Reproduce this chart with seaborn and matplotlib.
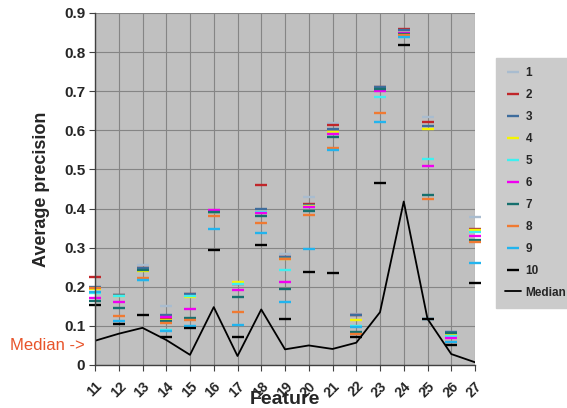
import matplotlib
matplotlib.use("Agg")
import matplotlib.pyplot as plt
import seaborn as sns
import pandas as pd

features = list(range(11, 28))
s1 = [0.197, 0.178, 0.255, 0.151, 0.180, 0.390, 0.210, 0.397, 0.283, 0.429, 0.620, 0.130, 0.710, 0.855, 0.634, 0.085, 0.378]
s2 = [0.226, 0.180, 0.247, 0.120, 0.181, 0.392, 0.208, 0.461, 0.277, 0.412, 0.613, 0.128, 0.711, 0.858, 0.622, 0.083, 0.349]
s3 = [0.200, 0.179, 0.248, 0.128, 0.182, 0.392, 0.209, 0.398, 0.276, 0.409, 0.604, 0.127, 0.712, 0.857, 0.612, 0.084, 0.345]
s4 = [0.195, 0.177, 0.241, 0.115, 0.173, 0.390, 0.212, 0.392, 0.270, 0.406, 0.596, 0.116, 0.703, 0.848, 0.603, 0.078, 0.344]
s5 = [0.185, 0.176, 0.218, 0.090, 0.177, 0.392, 0.206, 0.390, 0.242, 0.405, 0.591, 0.100, 0.686, 0.838, 0.527, 0.074, 0.340]
s6 = [0.171, 0.160, 0.220, 0.123, 0.144, 0.396, 0.193, 0.389, 0.213, 0.403, 0.590, 0.083, 0.700, 0.850, 0.509, 0.068, 0.330]
s7 = [0.164, 0.146, 0.242, 0.113, 0.119, 0.391, 0.174, 0.381, 0.194, 0.394, 0.584, 0.085, 0.705, 0.846, 0.435, 0.082, 0.320]
s8 = [0.196, 0.125, 0.222, 0.108, 0.114, 0.381, 0.135, 0.363, 0.272, 0.384, 0.556, 0.079, 0.644, 0.845, 0.425, 0.060, 0.315]
s9 = [0.186, 0.113, 0.218, 0.088, 0.100, 0.349, 0.101, 0.338, 0.160, 0.297, 0.550, 0.098, 0.621, 0.838, 0.118, 0.058, 0.261]
s10 = [0.153, 0.106, 0.128, 0.072, 0.095, 0.293, 0.072, 0.306, 0.118, 0.238, 0.234, 0.072, 0.466, 0.817, 0.118, 0.051, 0.210]
median = [0.062, 0.080, 0.095, 0.064, 0.026, 0.148, 0.023, 0.142, 0.040, 0.050, 0.041, 0.057, 0.135, 0.418, 0.118, 0.028, 0.007]

series = [s1, s2, s3, s4, s5, s6, s7, s8, s9, s10]
series_names = [str(i) for i in range(1, 11)]
colors = ["#a9bccf", "#c0262a", "#3e6c9c", "#f5f500", "#3ef0f0",
          "#f000f0", "#17706e", "#f07a32", "#22b4ee", "#000000"]
yticks = [0, 0.1, 0.2, 0.3, 0.4, 0.5, 0.6, 0.7, 0.8, 0.9]
ytick_labels = ["0", "0.1", "0.2", "0.3", "0.4", "0.5", "0.6", "0.7", "0.8", "0.9"]

sns.set_style("white")
plt.rcParams["font.family"] = ["Liberation Sans", "DejaVu Sans"]

fig = plt.figure(figsize=(5.67, 4.08), dpi=100)
ax = fig.add_axes([95 / 567, 1 - 365 / 408, (475 - 95) / 567, (365 - 13) / 408])
ax.set_facecolor("#c0c0c0")

for name, vals, c in zip(series_names, series, colors):
    df = pd.DataFrame({"feature": features, "value": vals})
    sns.lineplot(data=df, x="feature", y="value", ax=ax, color=c, marker="_",
                 linestyle="none", markersize=8, markeredgewidth=1.7,
                 markeredgecolor=c, markerfacecolor=c, label=name, clip_on=False)

dfm = pd.DataFrame({"feature": features, "value": median})
sns.lineplot(data=dfm, x="feature", y="value", ax=ax, color="black",
             linewidth=1.3, label="Median")

ax.set_xlim(11, 27)
ax.set_ylim(0, 0.9)
ax.set_xticks(features)
ax.set_xticklabels([str(f) for f in features], rotation=45, ha="right",
                   va="top", rotation_mode="anchor", fontweight="bold", fontsize=10)
ax.set_yticks(yticks)
ax.set_yticklabels(ytick_labels, fontweight="bold", fontsize=11)
ax.grid(True, color="#858585", linewidth=0.8)
ax.set_axisbelow(True)
for sp in ["top", "right"]:
    ax.spines[sp].set_visible(False)
for sp in ["left", "bottom"]:
    ax.spines[sp].set_color("#404040")
    ax.spines[sp].set_linewidth(1.0)
ax.tick_params(axis="both", which="major", direction="out", length=4,
               color="#404040", pad=3, left=True, bottom=True)
ax.tick_params(axis="x", pad=6)

ax.set_xlabel("Feature", fontsize=14, fontweight="bold", labelpad=-6)
ax.set_ylabel("Average precision", fontsize=13, fontweight="bold", labelpad=10)

leg = ax.legend(loc="upper left", bbox_to_anchor=(496 / 567, 1 - 58 / 408),
                bbox_transform=fig.transFigure, frameon=True, fancybox=False,
                facecolor="#cbcbcb", edgecolor="#cbcbcb", framealpha=1,
                prop={"weight": "bold", "size": 8.5},
                labelspacing=0.84, handlelength=1.3, borderpad=0.8,
                handletextpad=0.4, borderaxespad=0)

fig.text(10 / 567, 1 - 346 / 408, "Median ->", color="#e8542a", fontsize=12,
         va="center", ha="left")

fig.savefig("out.png", dpi=100)
